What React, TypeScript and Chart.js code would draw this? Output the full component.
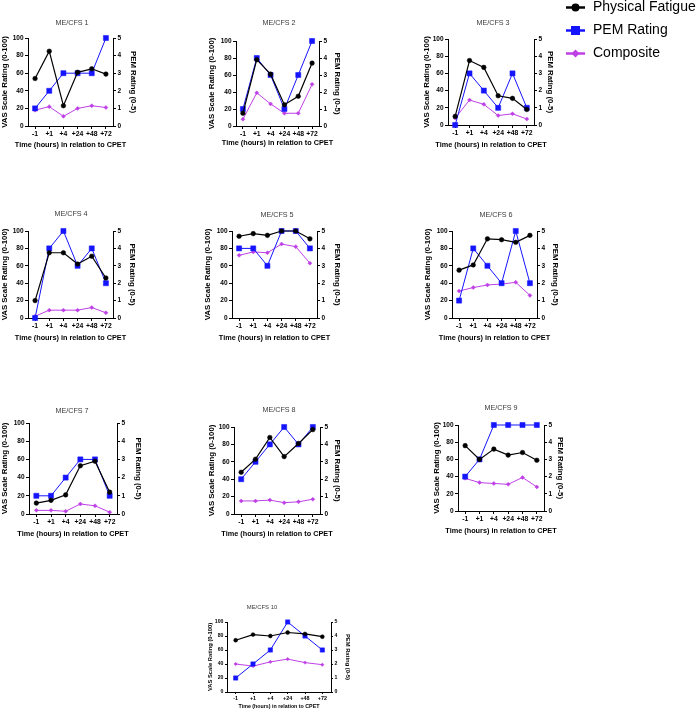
import React, { useEffect, useRef } from 'react';
import { Chart, registerables } from 'chart.js';

Chart.register(...registerables);

// ---------- data ----------
const timeLabels = ['-1', '+1', '+4', '+24', '+48', '+72'];
const panelTitles = ['ME/CFS 1', 'ME/CFS 2', 'ME/CFS 3', 'ME/CFS 4', 'ME/CFS 5', 'ME/CFS 6', 'ME/CFS 7', 'ME/CFS 8', 'ME/CFS 9', 'ME/CFS 10'];
const seriesNames = ['Physical Fatigue', 'PEM Rating', 'Composite'];
const vasTicks = [0, 20, 40, 60, 80, 100];
const pemTicks = [0, 1, 2, 3, 4, 5];
const xAxisTitle = 'Time (hours) in relation to CPET';
const leftAxisTitle = 'VAS Scale Rating (0-100)';
const rightAxisTitle = 'PEM Rating (0-5)';

const physicalFatigue = [
  [54, 85, 23, 61, 65, 59],
  [15, 78, 61, 25, 35, 74],
  [10, 75, 67, 34, 31, 18],
  [20, 75, 75, 62, 71, 46],
  [94, 97, 95, 100, 100, 91],
  [55, 61, 91, 90, 87, 95],
  [12, 15, 21, 53, 58, 24],
  [48, 63, 88, 66, 81, 97],
  [76, 60, 72, 65, 68, 59],
  [74, 82, 80, 85, 83, 79],
];
const pemRating = [
  [1, 2, 3, 3, 3, 5],
  [1, 4, 3, 1, 3, 5],
  [0, 3, 2, 1, 3, 1],
  [0, 4, 5, 3, 4, 2],
  [4, 4, 3, 5, 5, 4],
  [1, 4, 3, 2, 5, 2],
  [1, 1, 2, 3, 3, 1],
  [2, 3, 4, 5, 4, 5],
  [2, 3, 5, 5, 5, 5],
  [1, 2, 3, 5, 4, 3],
];
const composite = [
  [18, 22, 11, 20, 23, 21],
  [8, 39, 26, 15, 15, 49],
  [8, 29, 24, 11, 13, 7],
  [2, 9, 9, 9, 12, 6],
  [72, 76, 75, 85, 82, 63],
  [31, 35, 38, 39, 41, 26],
  [4, 4, 3, 11, 9, 2],
  [15, 15, 16, 13, 14, 17],
  [38, 33, 32, 31, 39, 28],
  [40, 37, 43, 47, 42, 39],
];

// ---------- layout / style ----------
const FONT = "'Liberation Sans', Arial, Helvetica, sans-serif";
const PAD_L = 45;
const PAD_R = 45;
const PAD_T = 30;
const PAD_B = 30;
const COLORS = ['#000000', '#1414ff', '#bf3fe6'];
const POINT_STYLES = ['circle', 'rect', 'rectRot'];
const POINT_RADII = [2.3, 3.6, 2];
const LINE_WIDTHS = [1.2, 1, 1];

// plot rectangle (L,T,R,B), panel title centre (tx,ty), y-title centres (lt, rt), x-title centre y (xt)
const panelBoxes = [
  { L: 28, T: 38, R: 113, B: 126, tx: 72, ty: 23, lt: 5, rt: 133, xt: 145, small: false },
  { L: 236, T: 41, R: 319, B: 126, tx: 279, ty: 23, lt: 212, rt: 337, xt: 143, small: false },
  { L: 448, T: 39, R: 534, B: 125, tx: 493, ty: 23, lt: 427, rt: 550, xt: 145, small: false },
  { L: 28, T: 231, R: 113, B: 318, tx: 71, ty: 214, lt: 5, rt: 132, xt: 338, small: false },
  { L: 232, T: 231, R: 317, B: 318, tx: 277, ty: 215, lt: 208, rt: 337, xt: 338, small: false },
  { L: 452, T: 231, R: 537, B: 318, tx: 496, ty: 215, lt: 428, rt: 555, xt: 338, small: false },
  { L: 29, T: 423, R: 117, B: 514, tx: 72, ty: 411, lt: 5, rt: 138, xt: 534, small: false },
  { L: 234, T: 427, R: 320, B: 514, tx: 279, ty: 410, lt: 212, rt: 337, xt: 534, small: false },
  { L: 458, T: 425, R: 544, B: 511, tx: 501, ty: 408, lt: 437, rt: 560, xt: 531, small: false },
  { L: 227, T: 622, R: 331, B: 692, tx: 262, ty: 607, lt: 210, rt: 348, xt: 707, small: true },
];

const FONT_NORMAL = { yTick: 6.5, xTick: 6.8, yTitle: 7.8, xTitle: 7.3, title: 7.2, tickLen: 3, xPad: 1.5 };
const FONT_SMALL = { yTick: 5.2, xTick: 5.4, yTitle: 5.8, xTitle: 5.3, title: 5.9, tickLen: 2, xPad: 1 };

function Panel({ idx }: { idx: number }) {
  const ref = useRef<HTMLCanvasElement>(null);
  const box = panelBoxes[idx];
  const f = box.small ? FONT_SMALL : FONT_NORMAL;
  const cl = box.L - PAD_L;
  const ct = box.T - PAD_T;
  const cw = box.R - box.L + PAD_L + PAD_R;
  const ch = box.B - box.T + PAD_T + PAD_B;

  useEffect(() => {
    if (!ref.current) return;
    const seriesData = [physicalFatigue[idx], pemRating[idx], composite[idx]];

    const textPlugin = {
      id: 'panelText',
      afterDraw(chart: any) {
        const ctx = chart.ctx as CanvasRenderingContext2D;
        const area = chart.chartArea;
        const cx = (area.left + area.right) / 2;
        const cy = (area.top + area.bottom) / 2;
        ctx.save();
        ctx.textAlign = 'center';
        ctx.textBaseline = 'middle';
        // panel title
        ctx.fillStyle = '#3a3a3a';
        ctx.font = `${f.title}px ${FONT}`;
        ctx.fillText(panelTitles[idx], box.tx - cl, box.ty - ct);
        // x title
        ctx.fillStyle = '#000';
        ctx.font = `bold ${f.xTitle}px ${FONT}`;
        ctx.fillText(xAxisTitle, cx, box.xt - ct);
        // left title
        ctx.font = `bold ${f.yTitle}px ${FONT}`;
        ctx.save();
        ctx.translate(box.lt - cl, cy);
        ctx.rotate(-Math.PI / 2);
        ctx.fillText(leftAxisTitle, 0, 0);
        ctx.restore();
        // right title
        ctx.save();
        ctx.translate(box.rt - cl, cy);
        ctx.rotate(Math.PI / 2);
        ctx.fillText(rightAxisTitle, 0, 0);
        ctx.restore();
        ctx.restore();
      },
    };

    const grid = { display: true, drawOnChartArea: false, drawTicks: true, tickLength: f.tickLen, tickColor: '#000', tickWidth: 1 };
    const border = { display: true, color: '#000', width: 1 };

    const chart = new Chart(ref.current, {
      type: 'line',
      data: {
        labels: timeLabels,
        datasets: seriesNames.map((name, i) => ({
          label: name,
          data: seriesData[i],
          yAxisID: i === 1 ? 'y1' : 'y',
          borderColor: COLORS[i],
          backgroundColor: COLORS[i],
          pointBackgroundColor: COLORS[i],
          pointBorderColor: COLORS[i],
          pointStyle: POINT_STYLES[i],
          pointRadius: box.small ? POINT_RADII[i] * 0.85 : POINT_RADII[i],
          pointBorderWidth: 0.5,
          borderWidth: LINE_WIDTHS[i],
          tension: 0,
          fill: false,
          clip: false as any,
        })),
      },
      options: {
        animation: false,
        responsive: false,
        events: [],
        layout: { padding: { top: PAD_T, left: 0, right: 0, bottom: 0 } },
        plugins: { legend: { display: false }, tooltip: { enabled: false }, title: { display: false } },
        scales: {
          x: {
            type: 'category',
            offset: true,
            grid,
            border,
            ticks: {
              color: '#000',
              font: { family: FONT, size: f.xTick, weight: 'bold' },
              padding: f.xPad,
              maxRotation: 0,
              minRotation: 0,
              autoSkip: false,
            },
            title: { display: false },
            afterFit: (s: any) => {
              s.height = PAD_B;
            },
          },
          y: {
            position: 'left',
            min: vasTicks[0],
            max: vasTicks[vasTicks.length - 1],
            afterBuildTicks: (s: any) => {
              s.ticks = vasTicks.map((v) => ({ value: v }));
            },
            grid,
            border,
            ticks: { color: '#000', font: { family: FONT, size: f.yTick, weight: 'bold' }, padding: 1.5 },
            title: { display: false },
            afterFit: (s: any) => {
              s.width = PAD_L;
            },
          },
          y1: {
            position: 'right',
            min: pemTicks[0],
            max: pemTicks[pemTicks.length - 1],
            afterBuildTicks: (s: any) => {
              s.ticks = pemTicks.map((v) => ({ value: v }));
            },
            grid,
            border,
            ticks: { color: '#000', font: { family: FONT, size: f.yTick, weight: 'bold' }, padding: 1.5 },
            title: { display: false },
            afterFit: (s: any) => {
              s.width = PAD_R;
            },
          },
        },
      } as any,
      plugins: [textPlugin],
    });
    return () => chart.destroy();
  }, []);

  return (
    <canvas
      ref={ref}
      width={cw}
      height={ch}
      style={{ position: 'absolute', left: cl, top: ct, width: cw, height: ch }}
    />
  );
}

const LEGEND_LEFT = 555;
const LEGEND_W = 142;
const LEGEND_H = 66;

function drawMarker(ctx: CanvasRenderingContext2D, style: string, x: number, y: number, r: number) {
  ctx.beginPath();
  if (style === 'circle') {
    ctx.arc(x, y, r, 0, Math.PI * 2);
  } else if (style === 'rect') {
    ctx.rect(x - r, y - r, 2 * r, 2 * r);
  } else {
    ctx.moveTo(x, y - r);
    ctx.lineTo(x + r, y);
    ctx.lineTo(x, y + r);
    ctx.lineTo(x - r, y);
    ctx.closePath();
  }
  ctx.fill();
}

function LegendBox() {
  const ref = useRef<HTMLCanvasElement>(null);
  useEffect(() => {
    if (!ref.current) return;
    const legendPlugin = {
      id: 'sideLegend',
      afterDraw(chart: any) {
        const ctx = chart.ctx as CanvasRenderingContext2D;
        ctx.save();
        chart.data.datasets.forEach((ds: any, i: number) => {
          const y = 7.5 + i * 23;
          ctx.strokeStyle = ds.borderColor;
          ctx.fillStyle = ds.borderColor;
          ctx.lineWidth = 2.5;
          ctx.beginPath();
          ctx.moveTo(11, y);
          ctx.lineTo(30, y);
          ctx.stroke();
          const rr = [4, 4.5, 4][i];
          drawMarker(ctx, POINT_STYLES[i], 20.5, y, rr);
          ctx.fillStyle = '#000';
          ctx.font = `14px ${FONT}`;
          ctx.textAlign = 'left';
          ctx.textBaseline = 'middle';
          ctx.fillText(ds.label, 38, y);
        });
        ctx.restore();
      },
    };
    const chart = new Chart(ref.current, {
      type: 'line',
      data: {
        labels: [],
        datasets: seriesNames.map((name, i) => ({ label: name, data: [], borderColor: COLORS[i], backgroundColor: COLORS[i] })),
      },
      options: {
        animation: false,
        responsive: false,
        events: [],
        plugins: { legend: { display: false }, tooltip: { enabled: false } },
        scales: { x: { display: false }, y: { display: false } },
      } as any,
      plugins: [legendPlugin],
    });
    return () => chart.destroy();
  }, []);
  return (
    <canvas
      ref={ref}
      width={LEGEND_W}
      height={LEGEND_H}
      style={{ position: 'absolute', left: LEGEND_LEFT, top: 0, width: LEGEND_W, height: LEGEND_H }}
    />
  );
}

export default function App() {
  return (
    <div
      style={{
        position: 'absolute',
        left: 0,
        top: 0,
        width: 697,
        height: 711,
        overflow: 'hidden',
        background: '#ffffff',
      }}
    >
      {panelTitles.map((_, i) => (
        <Panel key={i} idx={i} />
      ))}
      <LegendBox />
    </div>
  );
}
